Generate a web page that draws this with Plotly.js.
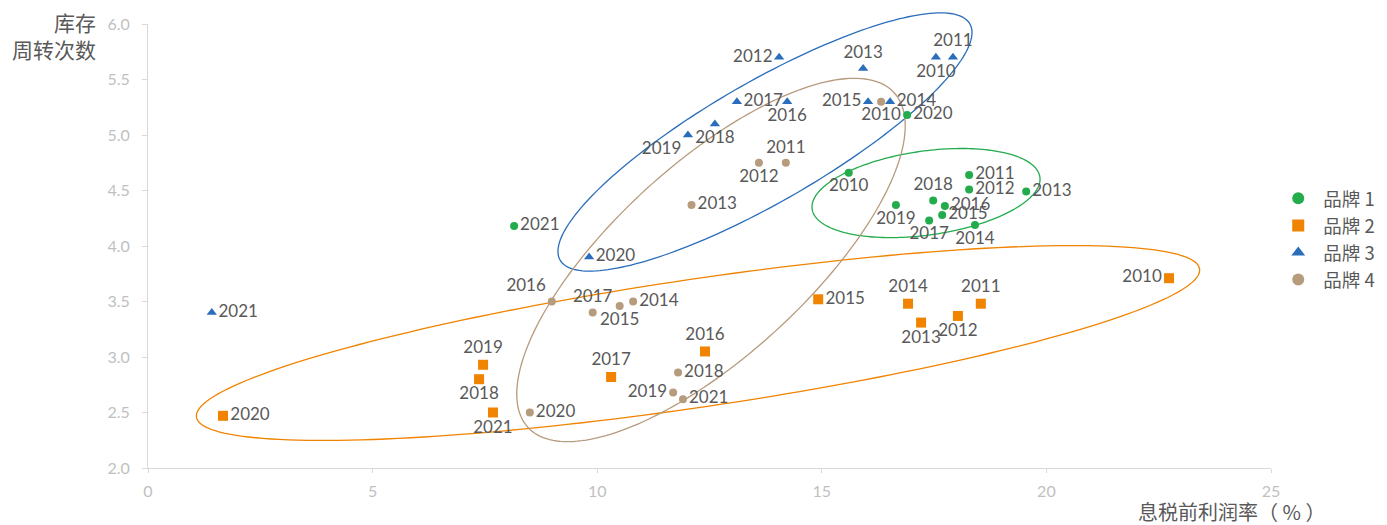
<!DOCTYPE html>
<html>
<head>
<meta charset="utf-8">
<script src="https://cdn.plot.ly/plotly-3.0.1.min.js"></script>
<style>html,body{margin:0;padding:0;background:#fff;}#chart{width:1387px;height:525px;}</style>
</head>
<body>
<div id="chart"></div>
<script>
// ---- data ----
var seriesNames = ['品牌 1', '品牌 2', '品牌 3', '品牌 4'];

var years1 = ['2021','2010','2020','2011','2012','2013','2018','2016','2015','2019','2017','2014'];
var x1 = [8.15, 15.6, 16.9, 18.28, 18.28, 19.55, 17.48, 17.74, 17.68, 16.65, 17.39, 18.41];
var y1 = [4.18, 4.66, 5.18, 4.64, 4.51, 4.49, 4.41, 4.36, 4.28, 4.37, 4.23, 4.19];

var years2 = ['2010','2011','2012','2013','2014','2015','2016','2017','2018','2019','2020','2021'];
var x2 = [22.73, 18.54, 18.03, 17.21, 16.92, 14.92, 12.40, 10.31, 7.37, 7.46, 1.67, 7.68];
var y2 = [3.71, 3.48, 3.37, 3.31, 3.48, 3.52, 3.05, 2.82, 2.80, 2.93, 2.47, 2.50];

var years3 = ['2021','2020','2019','2018','2017','2016','2015','2014','2012','2013','2010','2011'];
var x3 = [1.42, 9.82, 12.02, 12.62, 13.11, 14.23, 16.03, 16.52, 14.05, 15.92, 17.54, 17.92];
var y3 = [3.40, 3.90, 5.00, 5.10, 5.30, 5.30, 5.30, 5.30, 5.70, 5.60, 5.70, 5.70];

var years4 = ['2010','2011','2012','2013','2016','2017','2015','2014','2018','2019','2021','2020'];
var x4 = [16.32, 14.20, 13.60, 12.10, 8.99, 9.90, 10.50, 10.80, 11.80, 11.69, 11.91, 8.50];
var y4 = [5.30, 4.75, 4.75, 4.37, 3.50, 3.40, 3.46, 3.50, 2.86, 2.68, 2.62, 2.50];

var xRange = [0, 25];
var yRange = [2, 6];
var xTickVals = [0, 5, 10, 15, 20, 25];
var yTickVals = [2.0, 2.5, 3.0, 3.5, 4.0, 4.5, 5.0, 5.5, 6.0];

// ellipse guides: centre and two semi-axis vectors, in data units
var ellipse1 = {cx: 17.32, cy: 4.477, ux: 2.535, uy: 0.1442, vx: -0.1302, vy: 0.3747};
var ellipse2 = {cx: 12.244, cy: 3.126, ux: 11.166, uy: 0.6672, vx: -0.2081, vy: 0.5704};
var ellipse3 = {cx: 13.735, cy: 4.937, ux: 4.560, uy: 1.065, vx: -0.668, vy: 0.468};
var ellipse4 = {cx: 12.533, cy: 3.874, ux: 4.077, uy: 1.507, vx: -1.441, vy: 0.6387};

// ---- style ----
var colors = ['#22ac4c', '#f08300', '#2a6ebb', '#b69b7c'];
var symbols = ['circle', 'square', 'triangle-up', 'circle'];
var sizes = [8, 10, 9, 8];

var pos1 = ['middle right','bottom center','middle right','middle right','middle right','middle right','top center','middle right','middle right','bottom center','bottom center','bottom center'];
var pos2 = ['middle left','top center','bottom center','bottom center','top center','middle right','top center','top center','bottom center','top center','middle right','bottom center'];
var pos3 = ['middle right','middle right','bottom left','bottom center','middle right','bottom center','middle left','middle right','middle left','top center','bottom center','top center'];
var pos4 = ['bottom center','top center','bottom center','middle right','top left','top center','bottom center','middle right','middle right','middle left','middle right','middle right'];

var labelFont = {family: 'Lato, "Noto Sans CJK SC", sans-serif', size: 17, color: '#595959'};

function mk(i, xs, ys, txt, pos) {
  return {
    type: 'scatter', mode: 'markers+text', name: seriesNames[i],
    x: xs, y: ys, text: txt, textposition: pos,
    textfont: labelFont,
    marker: {color: colors[i], symbol: symbols[i], size: sizes[i]},
    cliponaxis: false, hoverinfo: 'x+y+text'
  };
}

var traces = [
  mk(0, x1, y1, years1, pos1),
  mk(1, x2, y2, years2, pos2),
  mk(2, x3, y3, years3, pos3),
  mk(3, x4, y4, years4, pos4)
];

// ellipse outline, mapped through the axis ranges to paper fractions (so it is not clipped)
function ellipsePath(e) {
  var n = 200, s = '';
  for (var k = 0; k <= n; k++) {
    var t = 2 * Math.PI * k / n;
    var dx = e.cx + Math.cos(t) * e.ux + Math.sin(t) * e.vx;
    var dy = e.cy + Math.cos(t) * e.uy + Math.sin(t) * e.vy;
    var px = (dx - xRange[0]) / (xRange[1] - xRange[0]);
    var py = (dy - yRange[0]) / (yRange[1] - yRange[0]);
    s += (k === 0 ? 'M' : 'L') + px.toFixed(5) + ',' + py.toFixed(5);
  }
  return s + 'Z';
}

var ells = [ellipse1, ellipse2, ellipse3, ellipse4];
var shapes = ells.map(function (e, i) {
  return {type: 'path', xref: 'paper', yref: 'paper', path: ellipsePath(e), layer: 'below',
          line: {color: colors[i], width: 1.3}, fillcolor: 'rgba(0,0,0,0)'};
});

var tickFont = {family: 'Lato, sans-serif', size: 16, color: '#bfbfbf'};
var titleFont = {family: '"Noto Sans CJK SC", sans-serif', size: 20, color: '#595959'};

var layout = {
  width: 1387, height: 525,
  margin: {l: 148, r: 116, t: 24, b: 57, autoexpand: false},
  paper_bgcolor: '#ffffff', plot_bgcolor: '#ffffff',
  showlegend: true,
  legend: {x: 1.002, xanchor: 'left', y: 0.515, yanchor: 'middle', itemwidth: 40,
           font: {family: '"Noto Sans CJK SC", sans-serif', size: 18.5, color: '#595959'},
           tracegroupgap: 0, itemsizing: 'constant', bgcolor: 'rgba(0,0,0,0)'},
  xaxis: {range: xRange, tickvals: xTickVals, ticktext: xTickVals.map(String),
          showgrid: false, zeroline: false, showline: true, linecolor: '#d9d9d9', linewidth: 1,
          ticks: 'outside', ticklen: 4, tickcolor: '#d9d9d9', tickfont: tickFont,
          ticklabelstandoff: 5, fixedrange: true},
  yaxis: {range: yRange, tickvals: yTickVals, ticktext: yTickVals.map(function (v) { return v.toFixed(1); }),
          showgrid: false, zeroline: false, showline: true, linecolor: '#d9d9d9', linewidth: 1,
          ticks: 'outside', ticklen: 5, tickcolor: '#d9d9d9', tickfont: tickFont,
          ticklabelstandoff: 9, fixedrange: true},
  shapes: shapes,
  annotations: [
    {xref: 'paper', yref: 'paper', x: -0.0445, y: 0.975, xanchor: 'right', yanchor: 'middle',
     align: 'right', showarrow: false, text: '库存<br>周转次数',
     font: {family: '"Noto Sans CJK SC", sans-serif', size: 21, color: '#595959'}},
    {xref: 'paper', yref: 'paper', x: 1.05, y: -0.097, xanchor: 'right', yanchor: 'middle',
     showarrow: false, text: '息税前利润率（ % ）', font: titleFont}
  ]
};

Plotly.newPlot('chart', traces, layout, {displayModeBar: false, staticPlot: true});
</script>
</body>
</html>
